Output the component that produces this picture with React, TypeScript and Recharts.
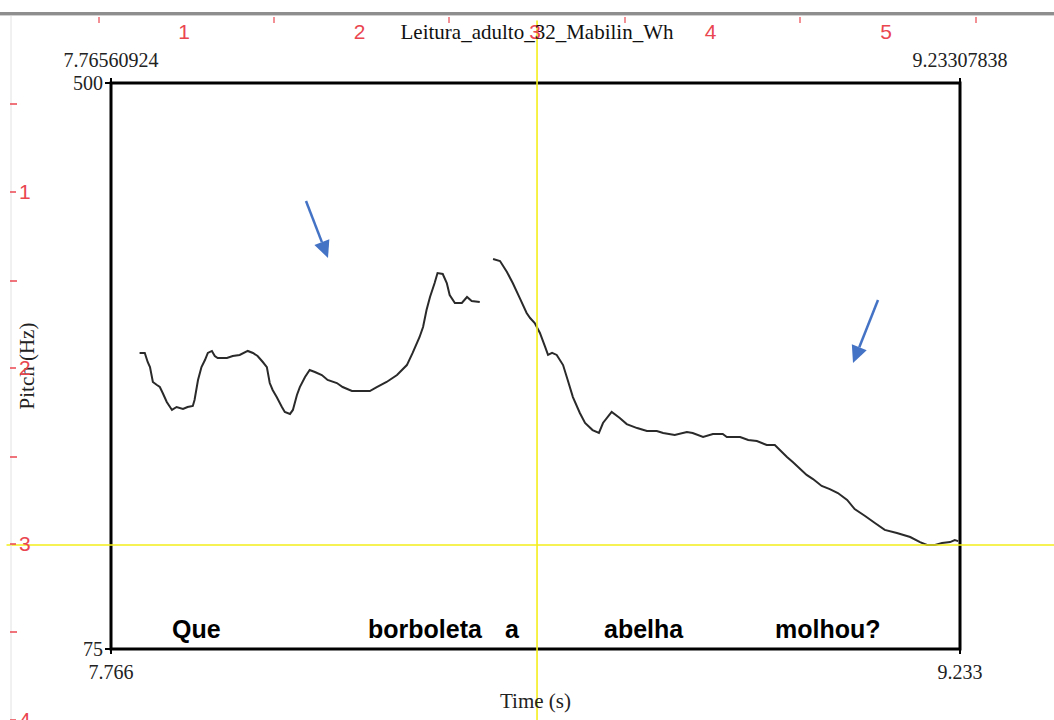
import { LineChart, Line, XAxis, YAxis, ReferenceArea, ReferenceLine } from "recharts";

// Praat pitch window (time in s, pitch in Hz)
const T_START = 7.76560924;
const T_END = 9.23307838;
const HZ_MIN = 75;
const HZ_MAX = 500;

// first voiced stretch
const TIME_A = [7.815, 7.824, 7.829, 7.833, 7.838, 7.845, 7.85, 7.855, 7.862, 7.871, 7.879, 7.89, 7.898, 7.907, 7.91, 7.916, 7.922, 7.928, 7.933, 7.94, 7.945, 7.95, 7.966, 7.976, 7.988, 8.002, 8.011, 8.019, 8.028, 8.035, 8.04, 8.045, 8.052, 8.061, 8.066, 8.075, 8.08, 8.087, 8.092, 8.101, 8.109, 8.118, 8.13, 8.14, 8.156, 8.166, 8.182, 8.213, 8.225, 8.242, 8.26, 8.277, 8.287, 8.299, 8.305, 8.311, 8.317, 8.325, 8.33, 8.339, 8.346, 8.351, 8.36, 8.372, 8.381, 8.389, 8.403];
const HZ_A = [297.3, 297.3, 290.5, 286.7, 275.5, 273.2, 271.7, 267.2, 260.5, 254.5, 256.7, 255.2, 256.7, 257.5, 262.0, 277.0, 286.7, 292.0, 297.3, 298.8, 295.0, 293.5, 293.5, 295.0, 295.8, 298.8, 297.3, 295.0, 290.5, 286.7, 274.7, 269.5, 264.2, 256.7, 253.0, 251.5, 254.5, 265.7, 271.7, 279.2, 284.5, 283.0, 280.7, 277.0, 274.7, 271.7, 268.7, 268.7, 271.7, 275.5, 280.7, 288.2, 297.3, 309.3, 316.8, 329.5, 339.3, 349.8, 357.3, 356.6, 349.8, 340.8, 334.8, 334.8, 339.3, 336.3, 335.6];

// second voiced stretch
const TIME_B = [8.426, 8.438, 8.45, 8.46, 8.472, 8.484, 8.49, 8.498, 8.507, 8.516, 8.521, 8.528, 8.536, 8.547, 8.555, 8.564, 8.576, 8.585, 8.598, 8.609, 8.616, 8.631, 8.645, 8.657, 8.675, 8.692, 8.709, 8.72, 8.74, 8.761, 8.771, 8.789, 8.806, 8.823, 8.83, 8.853, 8.867, 8.882, 8.899, 8.913, 8.934, 8.944, 8.968, 8.979, 8.994, 9.008, 9.022, 9.038, 9.051, 9.069, 9.086, 9.103, 9.124, 9.147, 9.164, 9.176, 9.19, 9.202, 9.216, 9.224, 9.23];
const HZ_B = [367.8, 366.3, 358.1, 349.8, 338.6, 327.3, 323.5, 319.8, 312.3, 301.8, 295.8, 297.3, 295.8, 288.2, 277.0, 264.2, 252.2, 244.7, 239.4, 237.2, 244.7, 253.0, 248.5, 243.9, 240.9, 238.7, 238.7, 237.2, 235.7, 237.9, 237.2, 234.2, 236.4, 236.4, 234.2, 234.2, 231.9, 231.2, 228.2, 228.2, 219.2, 215.4, 205.7, 202.6, 197.4, 195.1, 192.1, 186.9, 180.1, 174.9, 169.6, 164.4, 162.1, 159.1, 155.3, 153.1, 153.1, 154.6, 155.3, 156.8, 156.0];

// cursor
const CURSOR_T = 8.502;
const CURSOR_HZ = 153.1;

const WORDS = ["Que", "borboleta", "a", "abelha", "molhou?"];
const WORD_X = [172, 368, 505, 604, 775];

const RULER_TOP_LABELS = ["1", "2", "3", "4", "5"];
const RULER_LEFT_LABELS = ["1", "2", "3", "4"];

const data = [
  ...TIME_A.map((t, i) => ({ t, hz: HZ_A[i] as number | null })),
  { t: (TIME_A[TIME_A.length - 1] + TIME_B[0]) / 2, hz: null },
  ...TIME_B.map((t, i) => ({ t, hz: HZ_B[i] as number | null })),
];

const SERIF = "'Liberation Serif', 'Times New Roman', serif";
const RED = "#ea4650";
const BLUE = "#4472c4";

function Arrow({ x1, y1, x2, y2 }: { x1: number; y1: number; x2: number; y2: number }) {
  const dx = x2 - x1, dy = y2 - y1;
  const len = Math.hypot(dx, dy);
  const ux = dx / len, uy = dy / len;
  const hl = 17, hw = 8;
  const bx = x2 - ux * hl, by = y2 - uy * hl;
  const pts = `${x2},${y2} ${bx - uy * hw},${by + ux * hw} ${bx + uy * hw},${by - ux * hw}`;
  return (
    <g>
      <line x1={x1} y1={y1} x2={bx} y2={by} stroke={BLUE} strokeWidth={2.5} />
      <polygon points={pts} fill={BLUE} />
    </g>
  );
}

const yLabel = (props: any) => {
  const vb = props.viewBox;
  const x = vb.x + 16;
  const y = vb.y + vb.height / 2;
  return (
    <text x={x} y={y} transform={`rotate(-90 ${x} ${y})`} textAnchor="middle" dominantBaseline="central"
      fontFamily={SERIF} fontSize={21} fill="#222">Pitch (Hz)</text>
  );
};

const xLabel = (props: any) => {
  const vb = props.viewBox;
  return (
    <text x={vb.x + vb.width / 2} y={vb.y + 59} textAnchor="middle" fontFamily={SERIF} fontSize={21} fill="#222">Time (s)</text>
  );
};

export default function App() {
  const tickStyle = { fontFamily: SERIF, fontSize: 20, fill: "#222" };
  return (
    <div style={{ position: "fixed", left: 0, top: 0, width: 1054, height: 720, background: "#fff", overflow: "hidden" }}>
      <LineChart width={1054} height={720} data={data} margin={{ top: 20, right: 94, bottom: 7, left: 11 }}>
        <XAxis dataKey="t" type="number" domain={[T_START, T_END]} ticks={[T_START, T_END]} allowDataOverflow
          tickFormatter={(v: number) => v.toFixed(3)} height={64} tickSize={5} tickMargin={11}
          axisLine={false} tickLine={{ stroke: "#000", strokeWidth: 2 }} tick={tickStyle} label={{ content: xLabel }} />
        <XAxis xAxisId="top" dataKey="t" orientation="top" type="number" domain={[T_START, T_END]} ticks={[T_START, T_END]} allowDataOverflow
          tickFormatter={(v: number) => v.toFixed(8)} height={63} tickSize={5} tickMargin={11}
          axisLine={false} tickLine={{ stroke: "#000", strokeWidth: 2 }} tick={tickStyle} />
        <YAxis type="number" domain={[HZ_MIN, HZ_MAX]} ticks={[HZ_MIN, HZ_MAX]} allowDataOverflow width={100}
          tickSize={6} tickMargin={2} axisLine={false} tickLine={{ stroke: "#000", strokeWidth: 2 }} tick={tickStyle}
          label={{ content: yLabel }} />
        <ReferenceArea x1={T_START} x2={T_END} y1={HZ_MIN} y2={HZ_MAX} fill="none" stroke="#000" strokeWidth={3} ifOverflow="visible" />
        <Line dataKey="hz" type="linear" stroke="#2a2a2a" strokeWidth={2} dot={false} connectNulls={false} isAnimationActive={false} />
        {/* invisible twin so the top time axis gets its own scale */}
        <Line xAxisId="top" dataKey="hz" stroke="none" dot={false} activeDot={false} legendType="none" isAnimationActive={false} />
        <ReferenceLine segment={[{ x: CURSOR_T, y: 547 }, { x: CURSOR_T, y: 20 }]} stroke="#f5ee1a" strokeWidth={1.6} ifOverflow="visible" />
        <ReferenceLine segment={[{ x: 7.585, y: CURSOR_HZ }, { x: 9.396, y: CURSOR_HZ }]} stroke="#f5ee1a" strokeWidth={1.6} ifOverflow="visible" />
      </LineChart>
      <svg width={1054} height={720} style={{ position: "absolute", left: 0, top: 0, pointerEvents: "none" }}>
        {/* window border */}
        <rect x={0} y={12} width={1054} height={3} fill="#8e8e8e" />
        <rect x={0} y={15} width={1054} height={1} fill="#d0d0d0" />
        <line x1={11} y1={16} x2={11} y2={720} stroke="#e2e2e2" strokeWidth={1} />
        {/* top ruler */}
        {[99, 274, 449, 625, 800, 976].map((x) => (
          <line key={"th" + x} x1={x} y1={17} x2={x} y2={23} stroke={RED} strokeWidth={1.2} />
        ))}
        {RULER_TOP_LABELS.map((s, i) => (
          <text key={"tl" + s} x={184 + i * 175.5} y={39} textAnchor="middle" fontFamily="'Liberation Sans', sans-serif" fontSize={21} fill={RED}>{s}</text>
        ))}
        {/* left ruler */}
        {[104, 281, 457, 632].map((y) => (
          <line key={"lh" + y} x1={10} y1={y} x2={17} y2={y} stroke={RED} strokeWidth={1.5} />
        ))}
        {RULER_LEFT_LABELS.map((s, i) => (
          <g key={"ll" + s}>
            <line x1={10} y1={192 + i * 176} x2={16} y2={192 + i * 176} stroke={RED} strokeWidth={1.5} />
            <text x={19} y={199 + i * 176} fontFamily="'Liberation Sans', sans-serif" fontSize={21} fill={RED}>{s}</text>
          </g>
        ))}
        <text x={537} y={39} textAnchor="middle" fontFamily={SERIF} fontSize={21} fill="#111">Leitura_adulto_32_Mabilin_Wh</text>
        {WORDS.map((w, i) => (
          <text key={w} x={WORD_X[i]} y={638} fontFamily="'Liberation Sans', Arial, sans-serif" fontWeight="bold" fontSize={25} fill="#000">{w}</text>
        ))}
        <Arrow x1={306} y1={201} x2={328} y2={258} />
        <Arrow x1={878} y1={300} x2={853} y2={363} />
      </svg>
    </div>
  );
}
